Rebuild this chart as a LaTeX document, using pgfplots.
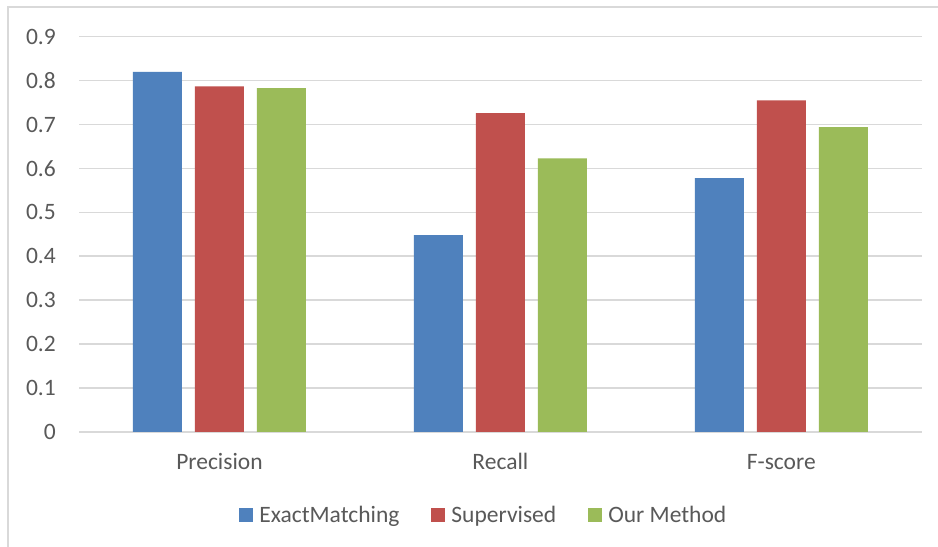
\documentclass[border=0pt]{standalone}
\usepackage{pgfplots}
\pgfplotsset{compat=1.18}
\usepackage{fontspec}
\setmainfont{Carlito}
\definecolor{cBlue}{HTML}{4F81BD}
\definecolor{cRed}{HTML}{C0504D}
\definecolor{cGreen}{HTML}{9BBB59}
\definecolor{cGrid}{HTML}{D9D9D9}
\definecolor{cText}{HTML}{595959}
\begin{document}
\begin{tikzpicture}[font=\fontsize{23.5bp}{28bp}\selectfont]
\useasboundingbox (0,0) rectangle (938bp,547bp);
\fill[white] (0,0) rectangle (938bp,547bp);
\draw[cGrid, line width=1.5bp] (8bp,-20bp) -- (8bp,540bp) -- (960bp,540bp);
\begin{axis}[
  at={(79bp,115.2bp)}, anchor=south west,
  scale only axis, width=842.7bp, height=395.1bp,
  ybar=13bp, bar width=49bp,
  xmin=-0.5, xmax=2.5, ymin=0, ymax=0.9,
  xtick={0,1,2}, xticklabels={Precision,Recall,F-score},
  ytick={0,0.1,...,0.9},
  yticklabel style={/pgf/number format/fixed, /pgf/number format/precision=1},
  /pgf/number format/assume math mode=true,
  major tick length=0pt,
  axis line style={draw=none},
  ymajorgrids, grid style={cGrid, line width=1.4bp},
  tick label style={text=cText},
  yticklabel style={anchor=east, inner sep=0pt, xshift=-23bp},
  xticklabel style={anchor=base, inner sep=0pt, yshift=-38bp},
  legend columns=3,
  legend style={draw=none, fill=none, at={(axis description cs:0.4804,-0.2104)}, anchor=center,
    text=cText,
    /tikz/every odd column/.append style={column sep=4bp},
    /tikz/every even column/.append style={column sep=30bp},
    nodes={inner sep=2bp}},
  legend image code/.code={\fill[#1] (0bp,-7bp) rectangle (14bp,7bp);},
]
\addplot[fill=cBlue, draw=none] coordinates {(0,0.820) (1,0.448) (2,0.578)};
\addplot[fill=cRed, draw=none] coordinates {(0,0.787) (1,0.726) (2,0.755)};
\addplot[fill=cGreen, draw=none] coordinates {(0,0.783) (1,0.623) (2,0.694)};
\legend{ExactMatching,Supervised,Our Method}
\end{axis}
\end{tikzpicture}
\end{document}
